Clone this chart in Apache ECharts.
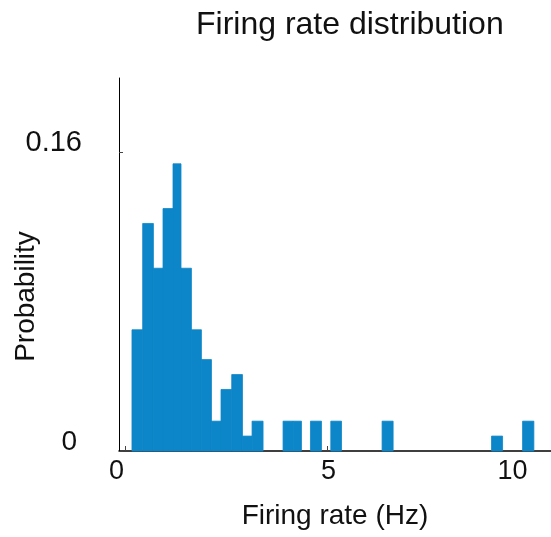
<!DOCTYPE html>
<html>
<head>
<meta charset="utf-8">
<script src="https://cdn.jsdelivr.net/npm/echarts@6/dist/echarts.min.js"></script>
<style>html,body{margin:0;padding:0;background:#fff}#c{width:551px;height:537px}</style>
</head>
<body>
<div id="c"></div>
<script>
// Bin edges (Hz) and probability per bin
var binLeft  = [0.163, 0.428, 0.693, 0.931, 1.178, 1.376, 1.634, 1.881, 2.129, 2.366, 2.631, 2.896, 3.134, 3.901, 4.149, 4.579, 5.082, 6.351, 9.059, 9.827];
var binRight = [0.428, 0.693, 0.931, 1.178, 1.376, 1.634, 1.881, 2.129, 2.366, 2.631, 2.896, 3.134, 3.406, 4.149, 4.356, 4.851, 5.347, 6.624, 9.332, 10.106];
var probability = [0.065, 0.122, 0.098, 0.130, 0.154, 0.098, 0.065, 0.049, 0.016, 0.033, 0.041, 0.008, 0.016, 0.016, 0.016, 0.016, 0.016, 0.016, 0.008, 0.016];
var xTicks = [0, 5, 10];
var yTicks = [0, 0.16];
var titleText = 'Firing rate distribution';
var xName = 'Firing rate (Hz)';
var yName = 'Probability';

var data = binLeft.map(function (l, i) { return [l, binRight[i], probability[i]]; });

var chart = echarts.init(document.getElementById('c'));
var FONT = 'Liberation Sans, Arial, sans-serif';
chart.setOption({
  animation: false,
  title: {
    text: titleText, left: 191, top: 4,
    textStyle: { fontFamily: FONT, fontSize: 32, fontWeight: 'normal', color: '#111' }
  },
  grid: { left: 119, right: 0, top: 78, bottom: 86, outerBoundsMode: 'none' },
  xAxis: {
    type: 'value', min: -0.158, max: 10.53,
    name: xName, nameLocation: 'middle', nameGap: 51, nameMoveOverlap: false,
    nameTextStyle: { fontFamily: FONT, fontSize: 28, color: '#111' },
    axisLine: { lineStyle: { color: '#000', width: 1.5 } },
    axisTick: { customValues: xTicks, inside: true, length: 5, lineStyle: { color: '#444' } },
    axisLabel: {
      customValues: xTicks, margin: 7,
      formatter: function (v) { return '{' + (v === 0 ? 'a' : v === 5 ? 'b' : 'c') + '|' + v + '}'; },
      rich: {
        a: { fontFamily: FONT, fontSize: 27, color: '#111', padding: [0, 18, 0, 0] },
        b: { fontFamily: FONT, fontSize: 27, color: '#111', padding: [0, 0, 0, 2] },
        c: { fontFamily: FONT, fontSize: 27, color: '#111', padding: [0, 34, 0, 0] }
      }
    },
    splitLine: { show: false }
  },
  yAxis: {
    type: 'value', min: 0, max: 0.2,
    name: yName, nameLocation: 'middle', nameGap: 79, nameRotate: 90, nameMoveOverlap: false,
    nameTextStyle: { fontFamily: FONT, fontSize: 28, color: '#111', padding: [0, 64, 0, 0] },
    axisLine: { show: true, onZero: false, lineStyle: { color: '#000', width: 1 } },
    axisTick: { customValues: yTicks, inside: true, length: 4, lineStyle: { color: '#444' } },
    axisLabel: {
      customValues: yTicks, margin: 37,
      formatter: function (v) { return v === 0 ? '{z|0}' : '{o|' + v + '}'; },
      rich: {
        z: { fontFamily: FONT, fontSize: 28, color: '#111', padding: [0, 5, 17, 0] },
        o: { fontFamily: FONT, fontSize: 29, color: '#111', padding: [0, 0, 20, 0] }
      }
    },
    splitLine: { show: false }
  },
  series: [{
    type: 'custom',
    data: data,
    encode: { x: [0, 1], y: 2 },
    renderItem: function (params, api) {
      var p1 = api.coord([api.value(0), api.value(2)]);
      var p2 = api.coord([api.value(1), 0]);
      return {
        type: 'rect',
        shape: { x: p1[0], y: p1[1], width: p2[0] - p1[0], height: p2[1] - p1[1] },
        style: { fill: '#0C86C8', stroke: '#0C86C8', lineWidth: 0.8 }
      };
    }
  }]
});
</script>
</body>
</html>
